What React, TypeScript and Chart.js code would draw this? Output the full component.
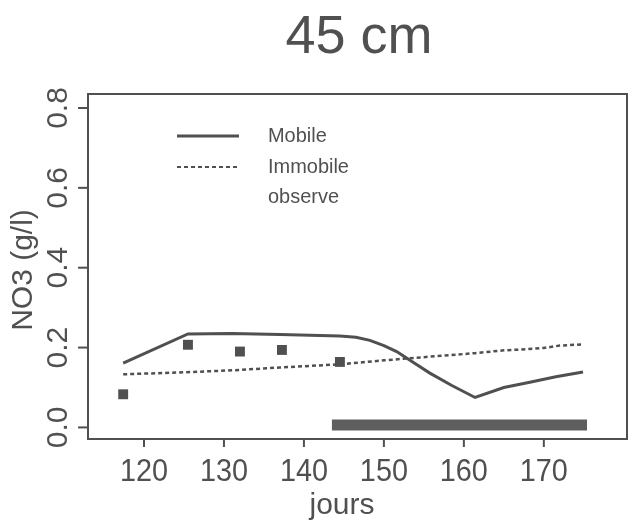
import React, { useEffect, useRef } from "react";
import { Chart, registerables } from "chart.js";

Chart.register(...registerables);

const TITLE = "45 cm";
const X_LABEL = "jours";
const Y_LABEL = "NO3 (g/l)";
const X_TICKS = [120, 130, 140, 150, 160, 170];
const Y_TICKS = [0, 0.2, 0.4, 0.6, 0.8];
const Y_TICK_LABELS = ["0.0", "0.2", "0.4", "0.6", "0.8"];

const mobileDays = [117.4, 125.5, 131, 137, 144.5, 146.5, 148.25, 150, 151.6, 153.6, 155.75, 158.5, 161.4, 165, 168.25, 171.5, 174.9];
const mobileVals = [0.161, 0.234, 0.235, 0.233, 0.229, 0.226, 0.218, 0.205, 0.19, 0.164, 0.136, 0.105, 0.075, 0.1, 0.113, 0.127, 0.139];

const immobileDays = [117.4, 125, 131, 137, 144.5, 150, 155, 161.4, 165, 168, 170, 172, 174.9];
const immobileVals = [0.133, 0.138, 0.143, 0.15, 0.158, 0.168, 0.176, 0.186, 0.193, 0.196, 0.199, 0.205, 0.208];

const obsDays = [117.4, 125.5, 132, 137.25, 144.5];
const obsVals = [0.083, 0.207, 0.19, 0.194, 0.164];

const barDays = [143.5, 175.4];
const barVals = [0.006, 0.006];

const LEGEND = ["Mobile", "Immobile", "observe"];

const INK = "#505050";
const FONT = "'Liberation Sans', Arial, Helvetica, sans-serif";

const zip = (xs: number[], ys: number[]) => xs.map((x, i) => ({ x, y: ys[i] }));

function drawText(
  ctx: CanvasRenderingContext2D,
  text: string,
  x: number,
  y: number,
  size: number,
  opts: { align?: CanvasTextAlign; rot?: number; sx?: number } = {}
) {
  ctx.save();
  ctx.translate(x, y);
  if (opts.rot) ctx.rotate(opts.rot);
  ctx.scale(opts.sx ?? 1, 1);
  ctx.font = `${size}px ${FONT}`;
  ctx.fillStyle = INK;
  ctx.textAlign = opts.align ?? "center";
  ctx.textBaseline = "alphabetic";
  ctx.fillText(text, 0, 0);
  ctx.restore();
}

const decorPlugin = {
  id: "decor",
  afterDraw(chart: any) {
    const { ctx, chartArea, scales } = chart;
    const xs = scales.x;
    const ys = scales.y;
    ctx.save();
    // frame
    ctx.strokeStyle = INK;
    ctx.lineWidth = 2;
    ctx.strokeRect(chartArea.left, chartArea.top, chartArea.right - chartArea.left, chartArea.bottom - chartArea.top);
    // x ticks
    X_TICKS.forEach((t) => {
      const px = xs.getPixelForValue(t);
      ctx.beginPath();
      ctx.moveTo(px, chartArea.bottom);
      ctx.lineTo(px, chartArea.bottom + 8);
      ctx.stroke();
      drawText(ctx, String(t), px, chartArea.bottom + 42, 32, { sx: 0.9 });
    });
    // y ticks
    Y_TICKS.forEach((t, i) => {
      const py = ys.getPixelForValue(t);
      ctx.beginPath();
      ctx.moveTo(chartArea.left, py);
      ctx.lineTo(chartArea.left - 10, py);
      ctx.stroke();
      drawText(ctx, Y_TICK_LABELS[i], chartArea.left - 21, py, 30, { rot: -Math.PI / 2 });
    });
    // axis titles
    drawText(ctx, X_LABEL, 342, 514, 30);
    drawText(ctx, Y_LABEL, 32, 270, 30, { rot: -Math.PI / 2 });
    // main title
    drawText(ctx, TITLE, 359, 53, 54);
    // legend
    ctx.strokeStyle = INK;
    ctx.lineWidth = 3;
    ctx.setLineDash([]);
    ctx.beginPath();
    ctx.moveTo(177, 136);
    ctx.lineTo(239, 136);
    ctx.stroke();
    ctx.lineWidth = 2;
    ctx.setLineDash([4, 3]);
    ctx.beginPath();
    ctx.moveTo(177, 167);
    ctx.lineTo(239, 167);
    ctx.stroke();
    ctx.setLineDash([]);
    LEGEND.forEach((l, i) => {
      drawText(ctx, l, 268, 142 + i * 30.5, 21, { align: "left", sx: 0.95 });
    });
    ctx.restore();
  },
};

export default function App() {
  const ref = useRef<HTMLCanvasElement | null>(null);
  useEffect(() => {
    if (!ref.current) return;
    const chart = new Chart(ref.current, {
      type: "line",
      data: {
        datasets: [
          {
            label: "bar",
            data: zip(barDays, barVals),
            borderColor: "#5e5e5e",
            borderWidth: 11,
            borderCapStyle: "butt",
            pointRadius: 0,
            fill: false,
          },
          {
            label: LEGEND[0],
            data: zip(mobileDays, mobileVals),
            borderColor: INK,
            borderWidth: 3,
            pointRadius: 0,
            tension: 0,
            fill: false,
          },
          {
            label: LEGEND[1],
            data: zip(immobileDays, immobileVals),
            borderColor: INK,
            borderWidth: 2.5,
            borderDash: [4, 3],
            pointRadius: 0,
            tension: 0,
            fill: false,
          },
          {
            label: LEGEND[2],
            data: zip(obsDays, obsVals),
            showLine: false,
            pointStyle: "rect",
            pointRadius: 7,
            pointBackgroundColor: INK,
            pointBorderColor: INK,
            pointBorderWidth: 0,
          },
        ],
      },
      options: {
        responsive: false,
        animation: false,
        layout: { autoPadding: false, padding: { left: 88, right: 1, top: 94, bottom: 84 } },
        plugins: { legend: { display: false }, tooltip: { enabled: false }, title: { display: false } },
        scales: {
          x: { type: "linear", min: 113, max: 180.4, display: false },
          y: { type: "linear", min: -0.029, max: 0.835, display: false },
        },
      },
      plugins: [decorPlugin],
    } as any);
    return () => chart.destroy();
  }, []);
  return (
    <canvas
      ref={ref}
      width={628}
      height={523}
      style={{ position: "fixed", left: 0, top: 0, width: 628, height: 523, background: "#fff" }}
    />
  );
}
